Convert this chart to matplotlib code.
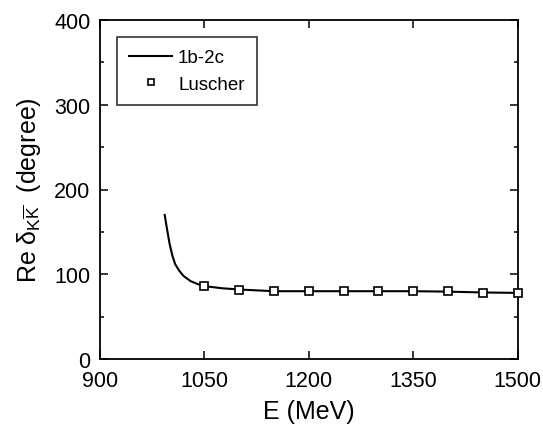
import matplotlib
matplotlib.use('Agg')
import matplotlib.pyplot as plt
from matplotlib.ticker import MultipleLocator

plt.rcParams['font.family'] = ['Liberation Sans', 'DejaVu Sans']
plt.rcParams['mathtext.fontset'] = 'custom'
plt.rcParams['mathtext.rm'] = 'Liberation Sans'
plt.rcParams['mathtext.it'] = 'Liberation Sans'

# 1b-2c curve
curve_e = [993, 997, 1000, 1004, 1008, 1014, 1020, 1030, 1040, 1050, 1075, 1100,
           1150, 1200, 1250, 1300, 1350, 1400, 1450, 1500]
curve_d = [170, 150, 136, 122, 112, 104, 98, 92, 88.5, 86, 83.5, 82,
           80, 80, 80, 80, 80, 79.5, 78.5, 78]

# Luscher points
lus_e = [1050, 1100, 1150, 1200, 1250, 1300, 1350, 1400, 1450, 1500]
lus_d = [86, 82, 80, 80, 80, 80, 80, 80, 78, 78]

fig = plt.figure(figsize=(5.43, 4.31), dpi=100)
ax = fig.add_axes([100 / 543, 1 - 360 / 431, 417.5 / 543, 339 / 431])

ax.plot(curve_e, curve_d, color='black', lw=1.5, label='1b-2c')
ax.plot(lus_e, lus_d, ls='none', marker='s', ms=6, mfc='white', mec='black',
        mew=1.2, label='Luscher', clip_on=False, zorder=5)

ax.set_xlim(900, 1500)
ax.set_ylim(0, 400)
ax.xaxis.set_major_locator(MultipleLocator(150))
ax.yaxis.set_major_locator(MultipleLocator(100))
ax.yaxis.set_minor_locator(MultipleLocator(50))
ax.tick_params(which='both', direction='in', top=True, right=True, labelsize=15.5, width=1.1)
ax.tick_params(axis='x', pad=8)
ax.tick_params(axis='y', pad=7)
ax.tick_params(which='major', length=6)
ax.tick_params(which='minor', length=3)
for s in ax.spines.values():
    s.set_linewidth(1.3)

ax.set_xlabel('E (MeV)', fontsize=18, labelpad=6)
ax.set_ylabel(r'Re $\delta_{K\overline{K}}$  (degree)', fontsize=18, labelpad=8)

leg = ax.legend(loc='upper left', bbox_to_anchor=(0.041, 0.95), fontsize=13.5,
                frameon=True, fancybox=False, edgecolor='black', handlelength=2.3,
                handletextpad=0.3, borderpad=0.65, labelspacing=0.5, markerscale=0.8,
                borderaxespad=0)
leg.get_frame().set_linewidth(1.2)

plt.savefig('out.png', dpi=100)
